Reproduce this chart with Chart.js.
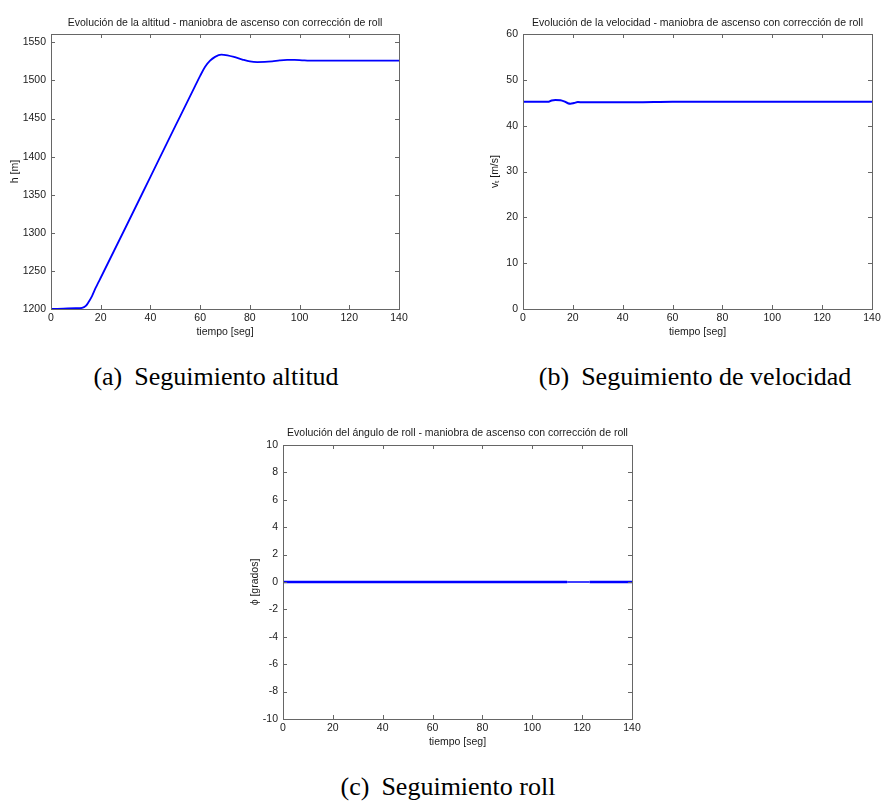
<!DOCTYPE html>
<html lang="es">
<head>
<meta charset="utf-8">
<title>Seguimiento altitud, velocidad y roll</title>
<script src="https://cdn.jsdelivr.net/npm/chart.js@4.4.1/dist/chart.umd.min.js"></script>
<style>
  html, body { margin: 0; padding: 0; background: #fff; }
  #page { position: relative; width: 889px; height: 810px; overflow: hidden; }
  canvas { position: absolute; }
  .caption {
    position: absolute; transform: translate(-50%, -50%);
    font-family: "Liberation Serif", "Times New Roman", serif;
    font-size: 26px; color: #000; white-space: nowrap;
  }
  .caption span { margin-left: 12px; }
</style>
</head>
<body>
<div id="page">
  <canvas id="altChart" width="430" height="338" style="left:0px;top:0px"></canvas>
  <canvas id="velChart" width="409" height="338" style="left:480px;top:0px"></canvas>
  <canvas id="rollChart" width="410" height="328" style="left:240px;top:420px"></canvas>
  <div class="caption" style="left:216px;top:377px">(a)<span>Seguimiento altitud</span></div>
  <div class="caption" style="left:695px;top:377px">(b)<span>Seguimiento de velocidad</span></div>
  <div class="caption" style="left:448px;top:787px">(c)<span>Seguimiento roll</span></div>
</div>
<script>
// altitud h [m] vs tiempo [seg]
const altTime = [0, 5, 10, 12.5, 14, 15, 16.5, 18, 19, 20, 30, 40, 50, 58, 60, 62, 64, 66, 68.5,
                 71, 74, 77, 80, 83, 86, 89, 92, 95, 98, 101, 104, 110, 120, 130, 140];
const altValues = [1200, 1200.5, 1201, 1201.5, 1204, 1208.5, 1217, 1228, 1234.5, 1241, 1307, 1373.5, 1440,
                   1493, 1506, 1518, 1526, 1531, 1534, 1533, 1530.5, 1527.5, 1525, 1524.2, 1524.3,
                   1525, 1526.3, 1527, 1527, 1526.5, 1526, 1526, 1526, 1526, 1526];

// velocidad v_t [m/s]
const velTime = [0, 10, 11.5, 13, 15, 16.5, 18, 19, 20.5, 22, 24, 30, 45, 60, 140];
const velValues = [45.2, 45.2, 45.5, 45.6, 45.55, 45.3, 44.9, 44.8, 44.95, 45.15, 45.1, 45.1, 45.1, 45.2, 45.2];

// angulo de roll phi [grados]
const rollTime = [0, 114, 123, 140];
const rollValues = [0, 0, 0, 0];

const xTicks = { min: 0, max: 140, step: 20 };
const altAxis = { min: 1200, max: 1561, step: 50 };
const velAxis = { min: 0, max: 60, step: 10 };
const rollAxis = { min: -10, max: 10, step: 2 };

const TEXT = '#1a1a1a';
const FONT = { family: 'Liberation Sans, Arial, sans-serif', size: 10.5, weight: 'normal' };

// MATLAB style box with ticks pointing inwards on all four sides
const matlabBox = {
    id: 'matlabBox',
    afterDatasetsDraw(chart) {
        const { ctx, chartArea: a, scales: { x, y } } = chart;
        const len = 4;
        ctx.save();
        ctx.strokeStyle = '#666';
        ctx.lineWidth = 1;
        ctx.beginPath();
        x.ticks.forEach(t => {
            const px = Math.round(x.getPixelForValue(t.value)) + 0.5;
            ctx.moveTo(px, a.bottom); ctx.lineTo(px, a.bottom - len);
            ctx.moveTo(px, a.top); ctx.lineTo(px, a.top + len);
        });
        y.ticks.forEach(t => {
            const py = Math.round(y.getPixelForValue(t.value)) + 0.5;
            ctx.moveTo(a.left, py); ctx.lineTo(a.left + len, py);
            ctx.moveTo(a.right, py); ctx.lineTo(a.right - len, py);
        });
        ctx.stroke();
        ctx.strokeRect(Math.round(a.left) + 0.5, Math.round(a.top) + 0.5,
                       Math.round(a.right - a.left), Math.round(a.bottom - a.top));
        ctx.restore();
    }
};

function makeChart(canvasId, xs, ys, yAxis, cfg) {
    const data = xs.map((t, i) => ({ x: t, y: ys[i] }));
    return new Chart(document.getElementById(canvasId), {
        type: 'line',
        data: {
            datasets: [{
                data: data,
                borderColor: '#0000ff',
                borderWidth: cfg.lineWidth,
                pointRadius: 0,
                cubicInterpolationMode: 'monotone',
                segment: cfg.segment
            }]
        },
        options: {
            responsive: false,
            animation: false,
            events: [],
            layout: { padding: { left: cfg.pl, right: cfg.pr, top: 0, bottom: 0 } },
            plugins: {
                legend: { display: false },
                tooltip: { enabled: false },
                title: {
                    display: true, text: cfg.title, fullSize: false,
                    color: TEXT, font: FONT, padding: cfg.titlePad
                }
            },
            scales: {
                x: {
                    type: 'linear', min: xTicks.min, max: xTicks.max,
                    grid: { display: false, drawTicks: false },
                    border: { display: false },
                    ticks: { stepSize: xTicks.step, padding: 3, color: TEXT, font: FONT,
                             autoSkip: false, maxRotation: 0, callback: v => String(v) },
                    title: { display: true, text: 'tiempo [seg]', color: TEXT, font: FONT, padding: 0 },
                    afterFit: s => { s.height = cfg.xHeight; }
                },
                y: {
                    type: 'linear', min: yAxis.min, max: yAxis.max,
                    grid: { display: false, drawTicks: false },
                    border: { display: false },
                    ticks: { stepSize: yAxis.step, padding: 5, color: TEXT, font: FONT,
                             autoSkip: false, includeBounds: false, callback: v => String(v) },
                    title: { display: true, text: cfg.yLabel, color: TEXT, font: FONT, padding: 0 },
                    afterFit: s => { s.width = cfg.yWidth; }
                }
            }
        },
        plugins: [matlabBox]
    });
}

makeChart('altChart', altTime, altValues, altAxis, {
    title: 'Evolución de la altitud - maniobra de ascenso con corrección de roll',
    yLabel: 'h [m]', lineWidth: 1.8,
    pl: 9, pr: 31, yWidth: 42, xHeight: 29,
    titlePad: { top: 16.7, bottom: 4.7 }
});

makeChart('velChart', velTime, velValues, velAxis, {
    title: 'Evolución de la velocidad - maniobra de ascenso con corrección de roll',
    yLabel: 'vₜ [m/s]', lineWidth: 2,
    pl: 9, pr: 17, yWidth: 34, xHeight: 29,
    titlePad: { top: 16.7, bottom: 4.7 }
});

makeChart('rollChart', rollTime, rollValues, rollAxis, {
    title: 'Evolución del ángulo de roll - maniobra de ascenso con corrección de roll',
    yLabel: 'ϕ [grados]', lineWidth: 2.5,
    pl: 9, pr: 18, yWidth: 34, xHeight: 29,
    titlePad: { top: 6.7, bottom: 5.7 },
    segment: { borderWidth: c => (c.p0.parsed.x >= 114 && c.p1.parsed.x <= 123 ? 1.5 : 2.5) }
});
</script>
</body>
</html>
